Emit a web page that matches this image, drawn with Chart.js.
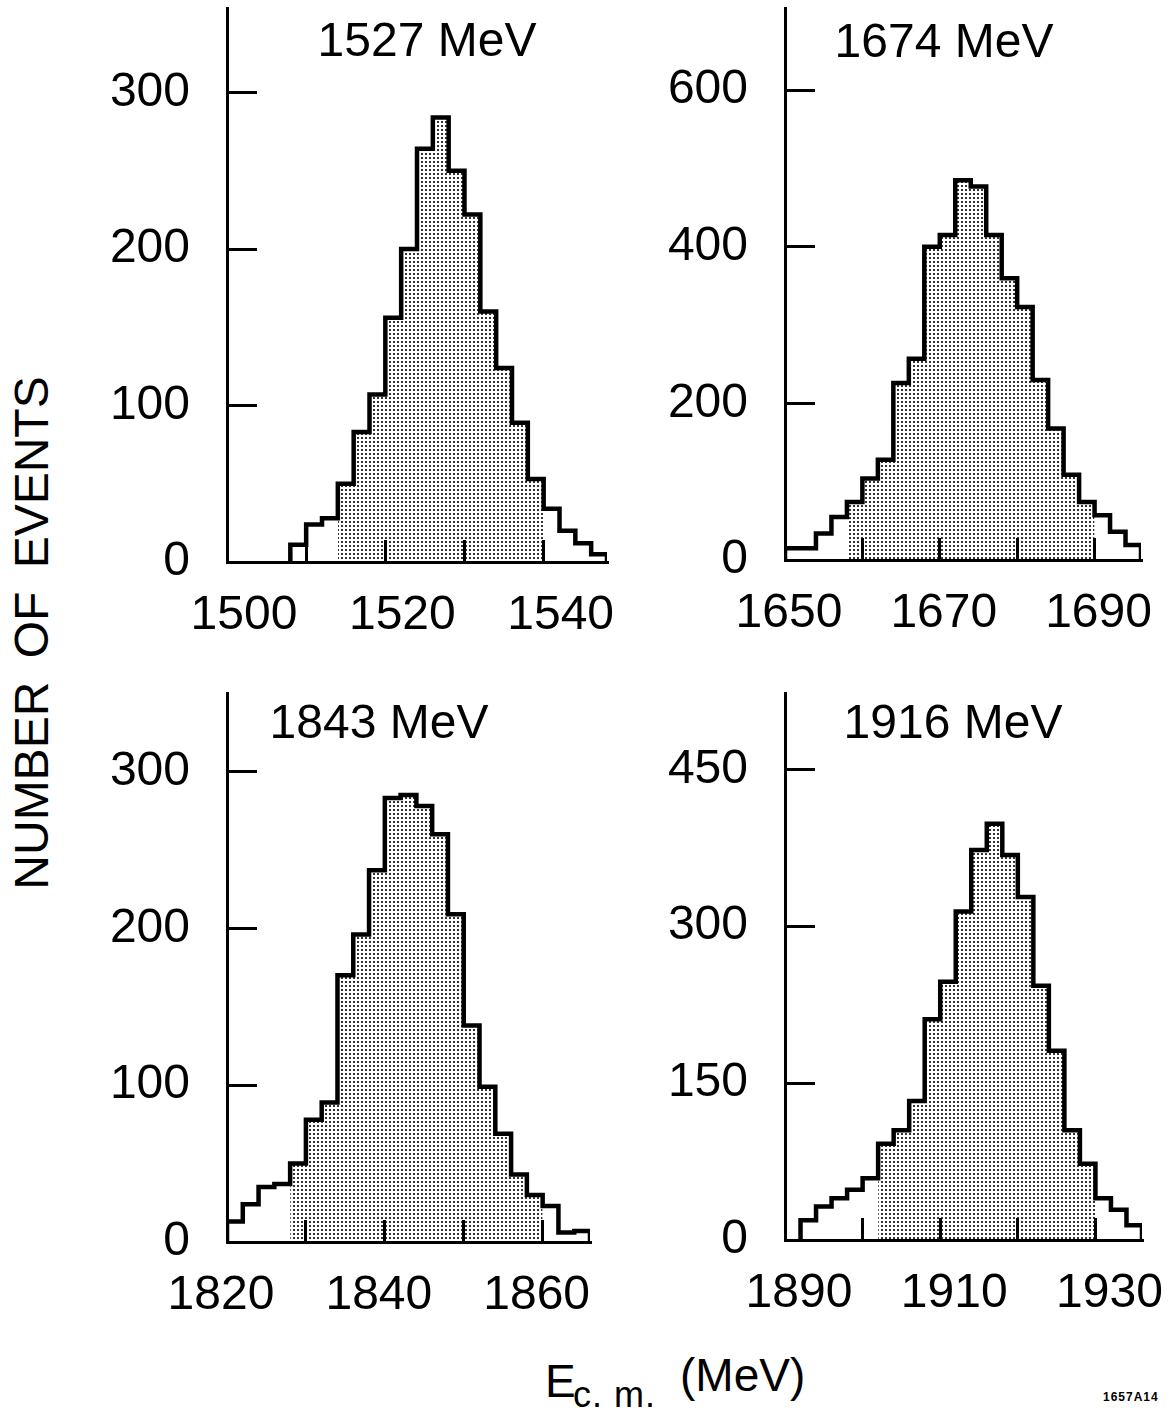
<!DOCTYPE html>
<html>
<head>
<meta charset="utf-8">
<script src="https://cdn.jsdelivr.net/npm/chart.js@4.4.0/dist/chart.umd.min.js"></script>
<style>
  html, body { margin: 0; padding: 0; background: #fff; }
  body { width: 1169px; height: 1413px; position: relative; overflow: hidden;
         font-family: "Liberation Sans", Arial, sans-serif; color: #000; }
  canvas { position: absolute; }
  .ytitle { position: absolute; left: 32px; top: 633px; font-size: 48px; line-height: 1;
            white-space: nowrap; word-spacing: 10px;
            transform: translate(-50%, -50%) rotate(-90deg); }
  .xt { position: absolute; line-height: 1; white-space: nowrap; }
  .stamp { position: absolute; left: 1103px; top: 1391px; font-size: 12px; font-weight: bold;
           letter-spacing: 1px; line-height: 1; }
</style>
</head>
<body>

<div class="ytitle">NUMBER OF EVENTS</div>
<span class="xt" style="left:545px; top:1358px; font-size:46px;">E</span>
<span class="xt" style="left:573px; top:1377px; font-size:36px; letter-spacing:1px;">c. m.</span>
<span class="xt" style="left:680px; top:1352px; font-size:46px;">(MeV)</span>
<div class="stamp">1657A14</div>

<script>
// ---- data (bin width 2 MeV) ----
const binWidth = 2;

// 1527 MeV
const binStart1527 = 1508;
const counts1527 = [11, 24, 28, 50, 83, 107, 156, 200, 264, 284, 250, 222, 160, 124, 89, 53, 34, 20, 12, 5];
const shade1527 = [1514, 1540];
const xTicks1527 = [1500, 1510, 1520, 1530, 1540];
const xLabels1527 = [1500, 1520, 1540];
const yTicks1527 = [0, 100, 200, 300];

// 1674 MeV
const binStart1674 = 1650;
const counts1674 = [15, 15, 34, 55, 74, 104, 128, 226, 257, 400, 415, 485, 477, 415, 360, 323, 230, 168, 109, 74, 57, 36, 19];
const shade1674 = [1658, 1690];
const xTicks1674 = [1650, 1660, 1670, 1680, 1690];
const xLabels1674 = [1650, 1670, 1690];
const yTicks1674 = [0, 200, 400, 600];

// 1843 MeV
const binStart1843 = 1820;
const counts1843 = [13, 24, 35, 37, 50, 78, 89, 170, 196, 237, 283, 285, 278, 260, 209, 138, 99, 69, 43, 30, 23, 6, 7];
const shade1843 = [1828, 1860];
const xTicks1843 = [1820, 1830, 1840, 1850, 1860];
const xLabels1843 = [1820, 1840, 1860];
const yTicks1843 = [0, 100, 200, 300];

// 1916 MeV
const binStart1916 = 1892;
const counts1916 = [19, 32, 40, 48, 59, 92, 105, 133, 211, 247, 314, 373, 398, 368, 328, 243, 181, 105, 73, 40, 29, 14];
const shade1916 = [1902, 1930];
const xTicks1916 = [1890, 1900, 1910, 1920, 1930];
const xLabels1916 = [1890, 1910, 1930];
const yTicks1916 = [0, 150, 300, 450];

// ---- layout: canvas box [left, top, w, h], plot area [left, top, right, bottom] in page px ----
const panels = [
  { title: "1527 MeV", start: binStart1527, counts: counts1527, shade: shade1527,
    xTicks: xTicks1527, xLabels: xLabels1527, yTicks: yTicks1527, xMax: 1548, yMax: 354,
    box: [60, 0, 640, 680], area: [227, 8, 607, 562], titleAt: [427, 43], labelOffset: 17 },
  { title: "1674 MeV", start: binStart1674, counts: counts1674, shade: shade1674,
    xTicks: xTicks1674, xLabels: xLabels1674, yTicks: yTicks1674, xMax: 1696, yMax: 705,
    box: [620, 0, 549, 680], area: [785, 8, 1141, 560], titleAt: [944, 44], labelOffset: 4 },
  { title: "1843 MeV", start: binStart1843, counts: counts1843, shade: shade1843,
    xTicks: xTicks1843, xLabels: xLabels1843, yTicks: yTicks1843, xMax: 1866, yMax: 350,
    box: [60, 680, 640, 680], area: [227, 693, 590, 1242], titleAt: [379, 725], labelOffset: -6 },
  { title: "1916 MeV", start: binStart1916, counts: counts1916, shade: shade1916,
    xTicks: xTicks1916, xLabels: xLabels1916, yTicks: yTicks1916, xMax: 1936, yMax: 523,
    box: [620, 680, 549, 680], area: [785, 693, 1142, 1240], titleAt: [953, 725], labelOffset: 14 }
];

const FONT = '"Liberation Sans", Arial, sans-serif';

// step outline points for bins whose low edge is in [from, to)
function steps(start, counts, from, to) {
  const pts = [];
  counts.forEach((c, i) => {
    const lo = start + i * binWidth;
    if (lo < from || lo >= to) return;
    if (pts.length === 0) pts.push({ x: lo, y: 0 });
    pts.push({ x: lo, y: c });
  });
  pts.push({ x: Math.min(to, start + counts.length * binWidth), y: 0 });
  return pts;
}

// dotted shading like the printed screen
function stipple() {
  const c = document.createElement("canvas");
  c.width = 4; c.height = 4;
  const g = c.getContext("2d");
  g.fillStyle = "#fff";
  g.fillRect(0, 0, 4, 4);
  g.fillStyle = "#333";
  g.fillRect(1, 1, 2, 2);
  return g.createPattern(c, "repeat");
}
const dots = stipple();

// energy label inside each plot
const panelTitle = {
  id: "panelTitle",
  afterDatasetsDraw(chart, args, opts) {
    const ctx = chart.ctx;
    ctx.save();
    ctx.font = "48px " + FONT;
    ctx.fillStyle = "#000";
    ctx.textAlign = "center";
    ctx.textBaseline = "middle";
    ctx.fillText(opts.text, opts.x, opts.y);
    ctx.restore();
  }
};

panels.forEach(p => {
  const [bx, by, bw, bh] = p.box;
  const [al, at, ar, ab] = p.area;
  const cv = document.createElement("canvas");
  cv.width = bw; cv.height = bh;
  cv.style.left = bx + "px"; cv.style.top = by + "px";
  cv.style.width = bw + "px"; cv.style.height = bh + "px";
  document.body.appendChild(cv);

  const end = p.start + p.counts.length * binWidth;

  new Chart(cv, {
    type: "line",
    data: {
      datasets: [
        {
          data: steps(p.start, p.counts, p.start, end),
          borderColor: "#000",
          borderWidth: 4.5,
          stepped: "before",
          fill: false,
          pointRadius: 0,
          borderJoinStyle: "miter"
        },
        {
          data: steps(p.start, p.counts, p.shade[0], p.shade[1]),
          borderColor: "rgba(0,0,0,0)",
          borderWidth: 0,
          backgroundColor: dots,
          fill: "origin",
          stepped: "before",
          pointRadius: 0
        }
      ]
    },
    options: {
      responsive: false,
      animation: false,
      devicePixelRatio: 1,
      layout: { padding: { left: 0, top: at - by, right: bx + bw - ar, bottom: 0 } },
      plugins: {
        legend: { display: false },
        tooltip: { enabled: false },
        panelTitle: { text: p.title, x: p.titleAt[0] - bx, y: p.titleAt[1] - by }
      },
      scales: {
        x: {
          type: "linear",
          min: p.xTicks[0],
          max: p.xMax,
          border: { display: true, color: "#000", width: 3, z: 1 },
          grid: { z: 1, drawOnChartArea: false, drawTicks: true, tickLength: -22, lineWidth: 3, color: "#000" },
          ticks: {
            color: "#000",
            font: { family: FONT, size: 48 },
            padding: 47,
            labelOffset: p.labelOffset,
            autoSkip: false,
            maxRotation: 0,
            callback: v => p.xLabels.includes(v) ? String(v) : ""
          },
          afterBuildTicks: s => { s.ticks = p.xTicks.map(v => ({ value: v })); },
          afterFit: s => {
            s.height = by + bh - ab;
            s.paddingLeft = 0; s.paddingRight = 0;
          }
        },
        y: {
          min: 0,
          max: p.yMax,
          border: { display: true, color: "#000", width: 3, z: 1 },
          grid: { z: 1, drawOnChartArea: false, drawTicks: true, tickLength: -30, lineWidth: 3, color: "#000" },
          ticks: {
            color: "#000",
            font: { family: FONT, size: 48 },
            padding: 67,
            callback: v => String(v)
          },
          afterBuildTicks: s => { s.ticks = p.yTicks.map(v => ({ value: v })); },
          afterFit: s => {
            s.width = al - bx;
            s.paddingTop = 0; s.paddingBottom = 0;
          }
        }
      }
    },
    plugins: [panelTitle]
  });
});
</script>
</body>
</html>
